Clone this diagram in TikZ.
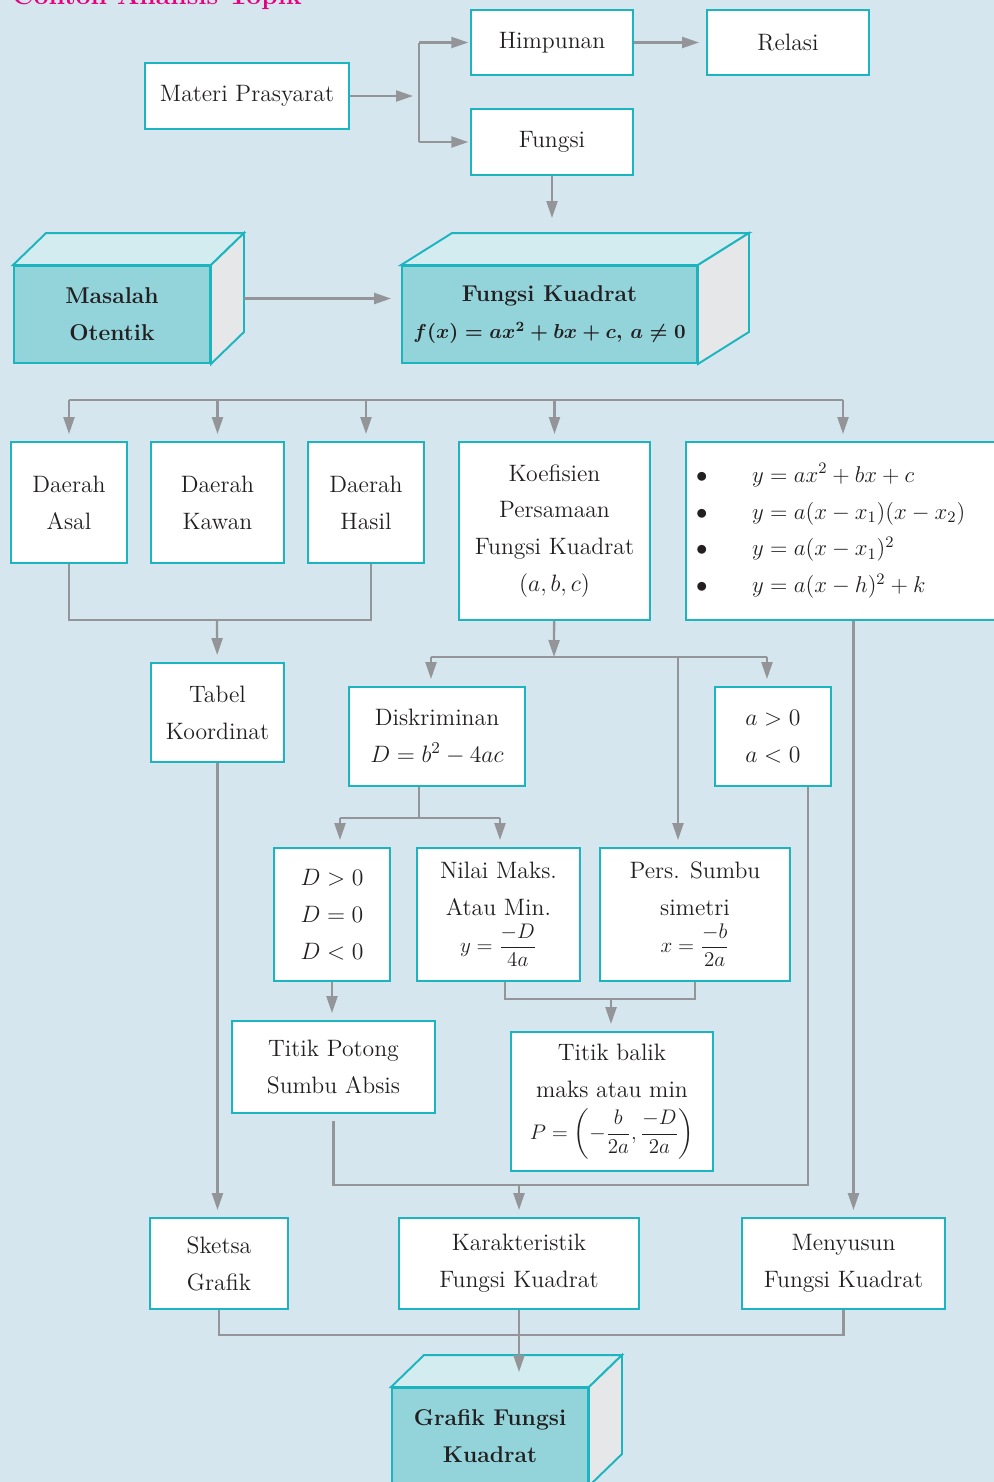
\RequirePackage{fix-cm}
\documentclass[tikz,border=0pt]{standalone}
\usepackage{amsmath}
\usepackage{fontspec}
\usepackage{tikz}
\usetikzlibrary{arrows.meta, calc, positioning}

\definecolor{latar}{HTML}{D6E6EF}
\definecolor{tosca}{HTML}{1CB5BF}
\definecolor{kubus}{HTML}{93D4DB}
\definecolor{kubusatas}{HTML}{D3ECEF}
\definecolor{kubussisi}{HTML}{E5E7E9}
\definecolor{panah}{HTML}{939598}
\definecolor{tinta}{HTML}{231F20}
\definecolor{judul}{HTML}{E6007E}

\newcommand{\kecil}{\fontsize{12}{14}\selectfont}

\tikzset{
  wh/.style 2 args={minimum width=#1*0.02cm, minimum height=#2*0.02cm},
  kotak/.style={draw=tosca, fill=white, line width=1.1pt, inner sep=0pt, align=center,
    text=tinta, font=\fontsize{13.5}{21}\selectfont},
  depan/.style={kotak, fill=kubus, font=\bfseries\fontsize{13}{21}\selectfont},
  atas/.style={draw=tosca, fill=kubusatas, line width=1.1pt},
  sisi/.style={draw=tosca, fill=kubussisi, line width=1.1pt},
  garis/.style={draw=panah, line width=1.3pt},
  panahj/.style={garis, -{Triangle[length=0.34cm,width=0.22cm]}},
  panahk/.style={panahj, shorten >=0.14cm},
}

\begin{document}
\begin{tikzpicture}[x=0.02cm, y=-0.02cm]
\fill[latar] (0,0) rectangle (994,1482);
\useasboundingbox (0,0) rectangle (994,1482);

\node[anchor=base west, inner sep=0pt, text=judul, font=\bfseries\fontsize{15}{18}\selectfont] (judul) at (12,4) {Contoh Analisis Topik};

% materi prasyarat
\node[kotak, wh={204}{66}] (materi) at (247,96) {Materi Prasyarat};
\node[kotak, wh={162}{65}] (himp) at (552,42.5) {Himpunan};
\node[kotak, wh={162}{65}] (relasi) at (788,42.5) {Relasi};
\node[kotak, wh={162}{66}] (fungsi) at (552,142) {Fungsi};

% kubus
\node[depan, wh={196}{97}] (masalah) at (112,314.5) {Masalah\\Otentik};
\filldraw[atas] (masalah.north west) -- ++(33,-32) -- ([shift={(33,-32)}]masalah.north east) -- (masalah.north east) -- cycle;
\filldraw[sisi] (masalah.north east) -- ++(33,-32) -- ([shift={(33,-32)}]masalah.south east) -- (masalah.south east) -- cycle;

\node[depan, wh={295}{97}] (fk) at (549.5,314.5) {Fungsi Kuadrat\\{\fontsize{11.5}{21}\selectfont\boldmath$f(x) = ax^2 + bx + c,\, a \neq 0$}};
\filldraw[atas] (fk.north west) -- ++(51,-32) -- ([shift={(51,-32)}]fk.north east) -- (fk.north east) -- cycle;
\filldraw[sisi] (fk.north east) -- ++(51,-32) -- ([shift={(51,-32)}]fk.south east) -- (fk.south east) -- cycle;

% baris kedua
\node[kotak, wh={116}{121}] (asal) at (69,502.5) {Daerah\\Asal};
\node[kotak, wh={133}{121}] (kawan) at (217.5,502.5) {Daerah\\Kawan};
\node[kotak, wh={116}{121}] (hasil) at (366,502.5) {Daerah\\Hasil};
\node[kotak, wh={191}{178}] (koef) at (554.5,531) {Koefisien\\Persamaan\\Fungsi Kuadrat\\$(a, b, c)$};
\node[kotak, wh={314}{178}, align=left, text width=5.88cm, inner xsep=0.2cm,
  font=\fontsize{13}{21}\selectfont] (bentuk) at (843,531)
  {\makebox[1.12cm][l]{$\bullet$}$y = ax^2 + bx + c$\\
   \makebox[1.12cm][l]{$\bullet$}$y = a(x - x_1)(x - x_2)$\\
   \makebox[1.12cm][l]{$\bullet$}$y = a(x - x_1)^2$\\
   \makebox[1.12cm][l]{$\bullet$}$y = a(x - h)^2 + k$};

% baris ketiga
\node[kotak, wh={133}{99}] (tabel) at (217.5,712.5) {Tabel\\Koordinat};
\node[kotak, wh={176}{99}] (disk) at (437,736.5) {Diskriminan\\$D = b^2 - 4ac$};
\node[kotak, wh={116}{99}] (tanda) at (773,736.5) {$a > 0$\\$a < 0$};

% baris keempat
\node[kotak, wh={116}{133}] (dbox) at (332,914.5) {$D > 0$\\$D = 0$\\$D < 0$};
\node[kotak, wh={163}{133}] (nilai) at (498.5,914.5) {Nilai Maks.\\Atau Min.\\{\kecil$y=\dfrac{-D}{4a}$}};
\node[kotak, wh={190}{133}] (sumbu) at (695,914.5) {Pers. Sumbu\\simetri\\{\kecil$x=\dfrac{-b}{2a}$}};

% baris kelima
\node[kotak, wh={203}{92}] (potong) at (333.5,1067) {Titik Potong\\Sumbu Absis};
\node[kotak, wh={202}{139}] (balik) at (612,1101.5) {Titik balik\\maks atau min\\[3pt]{\kecil$P = \left(-\dfrac{b}{2a},\dfrac{-D}{2a}\right)$}};

% baris keenam
\node[kotak, wh={138}{91}] (sketsa) at (219,1263.5) {Sketsa\\Grafik};
\node[kotak, wh={240}{91}] (karak) at (519,1263.5) {Karakteristik\\Fungsi Kuadrat};
\node[kotak, wh={203}{91}] (susun) at (843.5,1263.5) {Menyusun\\Fungsi Kuadrat};

\node[depan, wh={196}{97}] (grafik) at (490,1436.5) {Grafik Fungsi\\Kuadrat};
\filldraw[atas] (grafik.north west) -- ++(33,-32) -- ([shift={(33,-32)}]grafik.north east) -- (grafik.north east) -- cycle;
\filldraw[sisi] (grafik.north east) -- ++(33,-32) -- ([shift={(33,-32)}]grafik.south east) -- (grafik.south east) -- cycle;

% panah atas
\coordinate (cabang) at (419,96);
\draw[panahk, shorten >=0.12cm] (materi) -- (cabang);
\draw[garis] (cabang |- himp) -- (cabang |- fungsi);
\draw[panahj, shorten >=1pt] (cabang |- himp) -- (himp);
\draw[panahj, shorten >=1pt] (cabang |- fungsi) -- (fungsi);
\draw[panahk] (himp) -- (relasi);
\coordinate (fkatas) at (552,218);
\draw[panahj] (fungsi) -- (fkatas);
\coordinate (msisi) at ([shift={(33,-16)}]masalah.east);
\draw[panahk, shorten >=0.2cm] (msisi) -- (msisi -| fk.west);

% cabang ke baris kedua
\coordinate (bagi) at (69,400);
\draw[garis] (bagi) -- (bagi -| bentuk);
\foreach \n in {asal,kawan,hasil,koef,bentuk}
  \draw[panahk] (bagi -| \n) -- (\n);

\coordinate (gabung) at (217,620);
\draw[garis] (asal) |- (gabung) -| ([xshift=0.1cm]hasil.south);
\draw[panahk] (gabung) -- (tabel);

% koefisien
\coordinate (kk) at (554,657);
\coordinate (kkiri) at (431,657);
\coordinate (kkanan) at (767,657);
\coordinate (ksumbu) at (678,657);
\draw[panahj] (koef) -- (kk);
\draw[garis] (kkiri) -- (kkanan);
\draw[panahk] (kkiri) -- (kkiri |- disk.north);
\draw[panahk] (kkanan) -- (kkanan |- tanda.north);
\draw[panahk] (ksumbu) -- (ksumbu |- sumbu.north);

% diskriminan
\coordinate (dd) at (419,818);
\coordinate (dkiri) at (340,818);
\coordinate (dkanan) at (500,818);
\draw[garis] (dd |- disk.south) -- (dd);
\draw[garis] (dkiri) -- (dkanan);
\draw[panahk] (dkiri) -- (dkiri |- dbox.north);
\draw[panahk] (dkanan) -- (dkanan |- nilai.north);
\draw[panahk] (dbox.south) -- (dbox.south |- potong.north);

\coordinate (nb) at (611,999);
\draw[garis] ([xshift=0.13cm]nilai.south) |- (nb) -| (sumbu.south);
\draw[panahk] (nb) -- (nb |- balik.north);

\coordinate (pk) at (519,1185);
\draw[garis, shorten <=0.14cm] (potong) |- (pk) -| ([xshift=0.7cm]tanda.south);
\draw[panahk] (pk) -- (pk |- karak.north);

\draw[panahk] (tabel.south) -- (tabel.south |- sketsa.north);
\draw[panahk] ([xshift=0.21cm]bentuk.south) -- ([xshift=0.21cm]bentuk.south |- susun.north);

% ke grafik
\coordinate (bb) at (519,1335);
\draw[garis] (sketsa) |- (bb) -| (susun);
\coordinate (gpuncak) at (519,1372);
\draw[panahj] (karak) -- (gpuncak);
\end{tikzpicture}
\end{document}
